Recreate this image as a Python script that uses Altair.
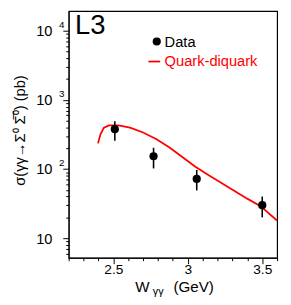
import altair as alt
import pandas as pd

# Data points (W in GeV, sigma in pb, error band)
data_w = [2.51, 2.77, 3.06, 3.50]
data_sigma = [377, 153, 72, 30]
data_lo = [257, 102, 49, 20]
data_hi = [490, 203, 97, 40]

# Quark-diquark model curve
model_w = [2.397, 2.414, 2.437, 2.470, 2.535, 2.612, 2.700, 2.787, 2.875,
           2.963, 3.051, 3.138, 3.226, 3.314, 3.402, 3.489, 3.599]
model_sigma = [235, 320, 397, 428, 428, 397, 337, 271, 207,
               149, 108, 82, 63, 48, 37, 29, 18]

# Axis ticks
x_ticks = [2.2, 2.3, 2.4, 2.5, 2.6, 2.7, 2.8, 2.9, 3.0, 3.1, 3.2, 3.3, 3.4, 3.5, 3.6]
y_ticks = [6, 7, 8, 9, 10, 20, 30, 40, 50, 60, 70, 80, 90, 100,
           200, 300, 400, 500, 600, 700, 800, 900, 1000,
           2000, 3000, 4000, 5000, 6000, 7000, 8000, 9000, 10000]
exp_values = [100, 1000, 10000]
exp_labels = ["2", "3", "4"]

FONT = "Liberation Sans"
W, H = 213, 252

xs = alt.Scale(domain=[2.2, 3.6], nice=False, zero=False)
ys = alt.Scale(type="log", domain=[5.21, 19190], nice=False)

pts = pd.DataFrame({"w": data_w, "s": data_sigma, "lo": data_lo, "hi": data_hi})
model = pd.DataFrame({"w": model_w, "s": model_sigma})
exps = pd.DataFrame({"v": exp_values, "t": exp_labels})
one = pd.DataFrame({"a": [0]})

x_major = "abs(datum.value-2.5)<0.001 || abs(datum.value-3)<0.001 || abs(datum.value-3.5)<0.001"
y_major = "indexof([10,100,1000,10000], datum.value) >= 0"

x_axis = alt.Axis(values=x_ticks, grid=False, title=None, domainColor="black",
                  tickColor="black",
                  tickSize={"condition": {"test": x_major, "value": 6}, "value": 3},
                  labelExpr="abs(datum.value-2.5)<0.001 ? '2.5' : abs(datum.value-3)<0.001 ? '3' : abs(datum.value-3.5)<0.001 ? '3.5' : ''",
                  labelFont=FONT, labelFontSize=14, labelColor="black", labelPadding=-1,
                  labelFlush=False, labelOverlap=False)
y_axis = alt.Axis(values=y_ticks, grid=False, title=None, domainColor="black",
                  tickColor="black",
                  tickSize={"condition": {"test": y_major, "value": 6}, "value": 3},
                  labelExpr="indexof([10,100,1000,10000], datum.value) >= 0 ? '10' : ''",
                  labelFont=FONT, labelFontSize=15, labelColor="black", labelPadding=11,
                  labelBaseline="middle", labelOverlap=False, labelFlush=False)

line = alt.Chart(model).mark_line(color="#ff0000", strokeWidth=1.8, clip=True).encode(
    x=alt.X("w:Q", scale=xs, axis=x_axis),
    y=alt.Y("s:Q", scale=ys, axis=y_axis),
)

bars = alt.Chart(pts).mark_rule(color="black", strokeWidth=1.6).encode(
    x=alt.X("w:Q", scale=xs, axis=x_axis),
    y=alt.Y("lo:Q", scale=ys, axis=y_axis),
    y2="hi:Q",
)

dots = alt.Chart(pts).mark_circle(color="black", opacity=1, size=70).encode(
    x=alt.X("w:Q", scale=xs, axis=x_axis),
    y=alt.Y("s:Q", scale=ys, axis=y_axis),
)

sup = alt.Chart(exps).mark_text(align="left", baseline="middle", font=FONT,
                                fontSize=10, color="black", dy=-6).encode(
    x=alt.value(-10),
    y=alt.Y("v:Q", scale=ys, axis=y_axis),
    text="t:N",
)

l3 = alt.Chart(one).mark_text(text="L3", align="left", baseline="alphabetic",
                              font=FONT, fontSize=28, color="black").encode(
    x=alt.value(6.5), y=alt.value(23.7))

leg_dot = alt.Chart(one).mark_circle(color="black", opacity=1, size=70).encode(
    x=alt.value(90), y=alt.value(31))
leg_data = alt.Chart(one).mark_text(text="Data", align="left", baseline="middle",
                                    font=FONT, fontSize=15, color="black").encode(
    x=alt.value(98), y=alt.value(31.5))
leg_line = alt.Chart(one).mark_rule(color="#ff0000", strokeWidth=1.8).encode(
    x=alt.value(81.5), x2=alt.value(93.5), y=alt.value(51.5))
leg_qd = alt.Chart(one).mark_text(text="Quark-diquark", align="left", baseline="middle",
                                  font=FONT, fontSize=15, color="#ff0000").encode(
    x=alt.value(98), y=alt.value(51.5))

ytitle = alt.Chart(one).mark_text(text="σ(γγ→Σ⁰ Σ̅⁰) (pb)", align="center",
                                  baseline="alphabetic", angle=270, font=FONT,
                                  fontSize=15, color="black").encode(
    x=alt.value(-45), y=alt.value(122))

xt_w = alt.Chart(one).mark_text(text="W", align="left", baseline="alphabetic",
                                font=FONT, fontSize=15.5, color="black").encode(
    x=alt.value(68), y=alt.value(287))
xt_g = alt.Chart(one).mark_text(text="γγ", align="left", baseline="alphabetic",
                                font=FONT, fontSize=11, color="black").encode(
    x=alt.value(86), y=alt.value(290))
xt_u = alt.Chart(one).mark_text(text="(GeV)", align="left", baseline="alphabetic",
                                font=FONT, fontSize=15.5, color="black").encode(
    x=alt.value(107), y=alt.value(287))

chart = alt.layer(line, bars, dots, sup, l3, leg_dot, leg_data, leg_line, leg_qd,
                  ytitle, xt_w, xt_g, xt_u).properties(
    width=W, height=H,
    background="white",
    autosize=alt.AutoSizeParams(type="none"),
    padding={"left": 62, "top": 0, "right": 6, "bottom": 42},
).configure_view(stroke="black", strokeWidth=1.2)

chart.save("out.html", embed_options={"renderer": "svg", "actions": False})
